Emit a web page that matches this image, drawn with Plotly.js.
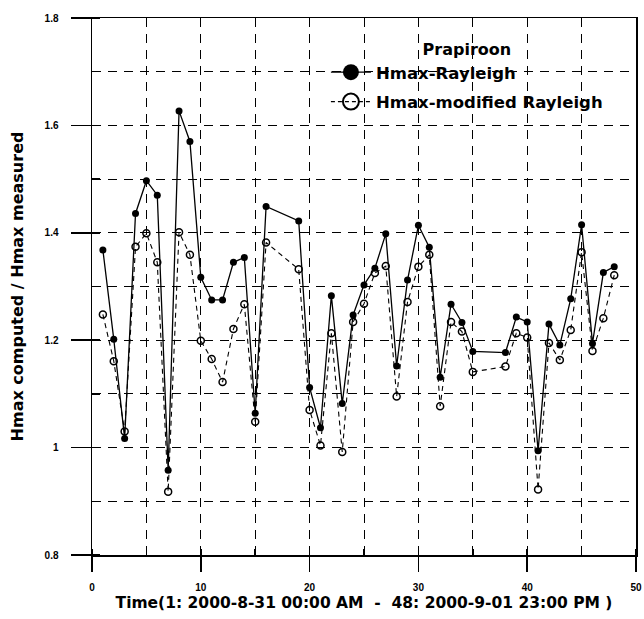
<!DOCTYPE html>
<html>
<head>
<meta charset="utf-8">
<script src="https://cdn.plot.ly/plotly-3.0.1.min.js"></script>
<style>html,body{margin:0;padding:0;background:#fff;}#chart{width:644px;height:619px;}</style>
</head>
<body>
<div id="chart"></div>
<script>
const timeIndex = [1,2,3,4,5,6,7,8,9,10,11,12,13,14,15,16,19,20,21,22,23,24,25,26,27,28,29,30,31,32,33,34,35,38,39,40,41,42,43,44,45,46,47,48];
const hmaxRayleigh = [1.368,1.202,1.017,1.436,1.497,1.470,0.958,1.627,1.570,1.317,1.275,1.275,1.345,1.354,1.064,1.449,1.422,1.112,1.037,1.283,1.082,1.247,1.303,1.334,1.398,1.152,1.312,1.414,1.373,1.131,1.267,1.233,1.179,1.177,1.243,1.234,0.994,1.230,1.191,1.277,1.415,1.194,1.326,1.337];
const hmaxModified = [1.248,1.161,1.030,1.374,1.399,1.345,0.918,1.401,1.359,1.199,1.165,1.122,1.221,1.267,1.048,1.382,1.332,1.070,1.004,1.213,0.992,1.234,1.268,1.325,1.338,1.095,1.271,1.337,1.359,1.077,1.234,1.216,1.141,1.151,1.213,1.205,0.922,1.195,1.163,1.219,1.364,1.180,1.241,1.321];
const seriesNames = ["Hmax-Rayleigh", "Hmax-modified Rayleigh"];
const legendTitle = "Prapiroon";
const xTitle = "Time(1: 2000-8-31 00:00 AM  -  48: 2000-9-01 23:00 PM )";
const yTitle = "Hmax computed / Hmax measured";

const FONT = "Liberation Sans, Arial, Helvetica, sans-serif";
const WIDE = "DejaVu Sans, Verdana, sans-serif";

const traces = [
  {x: timeIndex, y: hmaxRayleigh, type: 'scatter', mode: 'lines+markers', showlegend: false,
   line: {color: '#000', width: 1.3},
   marker: {symbol: 'circle', size: 7, color: '#000'}},
  {x: timeIndex, y: hmaxModified, type: 'scatter', mode: 'lines+markers', showlegend: false,
   line: {color: '#000', width: 1.1, dash: '5px,4px'},
   marker: {symbol: 'circle-open', size: 7, color: '#000', line: {width: 1.5}}},
  {x: [null], y: [null], type: 'scatter', mode: 'lines+markers', name: seriesNames[0], legendgroup: 'a',
   line: {color: '#000', width: 1.3}, marker: {symbol: 'circle', size: 22, color: '#000'}},
  {x: [null], y: [null], type: 'scatter', mode: 'lines+markers', name: seriesNames[1], legendgroup: 'b',
   line: {color: '#000', width: 1.1, dash: '4px,3px'}, marker: {symbol: 'circle-open', size: 22, color: '#000', line: {width: 2}}}
];

const gridDash = '9px,7px';
const layout = {
  width: 644, height: 619,
  margin: {l: 92, r: 8, t: 18, b: 64},
  paper_bgcolor: '#fff', plot_bgcolor: '#fff',
  font: {family: FONT, color: '#000'},
  showlegend: true,
  legend: {
    x: 0.43, y: 0.97, xanchor: 'left', yanchor: 'top',
    bgcolor: 'rgba(0,0,0,0)', borderwidth: 0,
    font: {family: WIDE, size: 16.5, color: '#000', weight: 'bold'},
    title: {text: '<b>' + legendTitle + '</b>', side: 'top center', font: {family: WIDE, size: 16, color: '#000'}},
    itemwidth: 40, traceorder: 'grouped', tracegroupgap: 5
  },
  xaxis: {
    range: [0, 50], dtick: 10, tick0: 0,
    showline: true, mirror: true, linecolor: '#000', linewidth: 1.5,
    showgrid: true, gridcolor: '#000', gridwidth: 1, griddash: gridDash,
    ticks: 'outside', ticklen: 15, tickcolor: '#000', tickwidth: 1.5,
    ticklabelstandoff: 7,
    minor: {dtick: 5, showgrid: true, gridcolor: '#000', gridwidth: 1, griddash: gridDash, ticks: 'inside', ticklen: 6, tickcolor: '#000'},
    tickfont: {family: FONT, size: 10, color: '#000', weight: 'bold'},
    zeroline: false,
    title: {text: '<b>' + xTitle + '</b>', font: {family: WIDE, size: 15.5, color: '#000'}, standoff: 5}
  },
  yaxis: {
    range: [0.8, 1.8], dtick: 0.2, tick0: 0.8,
    showline: true, mirror: true, linecolor: '#000', linewidth: 1.5,
    showgrid: true, gridcolor: '#000', gridwidth: 1, griddash: gridDash,
    ticks: 'outside', ticklen: 20, tickcolor: '#000', tickwidth: 1.5,
    ticklabelstandoff: 10,
    minor: {dtick: 0.1, showgrid: true, gridcolor: '#000', gridwidth: 1, griddash: gridDash, ticks: 'inside', ticklen: 8, tickcolor: '#000'},
    tickfont: {family: FONT, size: 10, color: '#000', weight: 'bold'},
    zeroline: false,
    title: {text: '<b>' + yTitle + '</b>', font: {family: WIDE, size: 16, color: '#000'}, standoff: 17}
  }
};

Plotly.newPlot('chart', traces, layout, {displayModeBar: false, staticPlot: true});
</script>
</body>
</html>
